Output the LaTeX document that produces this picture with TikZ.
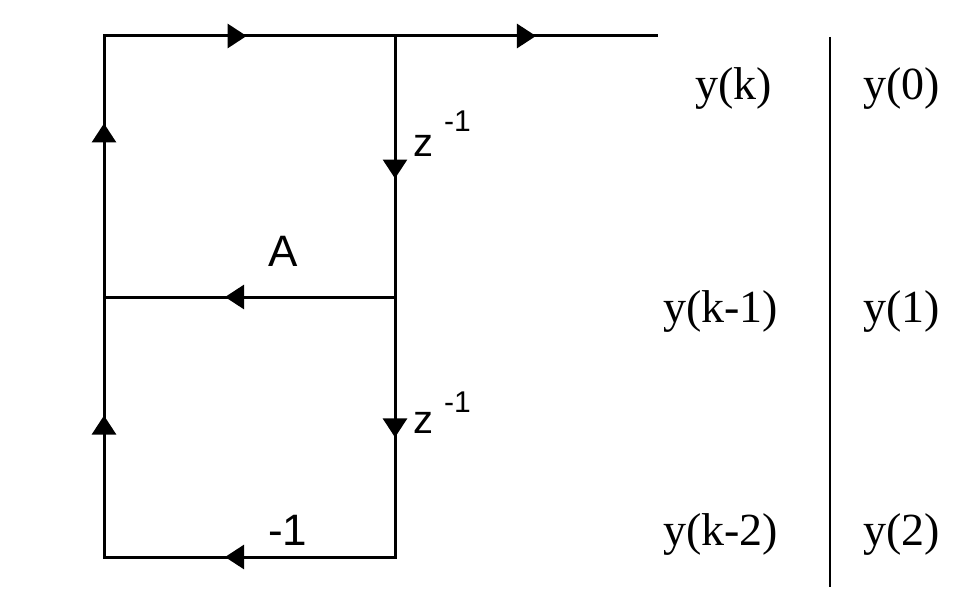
\documentclass[tikz,border=0pt]{standalone}
\usepackage{fontspec}
\setmainfont{Liberation Serif}
\newfontfamily\arialf{Liberation Sans}
\usetikzlibrary{arrows.meta,decorations.markings}
\begin{document}
\begin{tikzpicture}[x=1pt,y=-1pt,
  wire/.style={line width=3pt,line cap=rect},
  flow/.style={wire,postaction={decorate},decoration={markings,mark=at position #1 with {\arrow{Triangle[length=19pt,width=24pt]}}}},
  serifl/.style={inner sep=0pt,anchor=base west,font=\fontsize{46}{46}\selectfont},
  sansl/.style={inner sep=0pt,anchor=base west,font=\arialf\fontsize{40}{40}\selectfont},
  bigsans/.style={inner sep=0pt,anchor=base west,font=\arialf\fontsize{44}{44}\selectfont},
  supl/.style={inner sep=0pt,anchor=base west,font=\arialf\fontsize{30}{30}\selectfont}]
\useasboundingbox[fill=white] (0,0) rectangle (966,612);
\coordinate (TL) at (104,36);
\coordinate (TM) at (395,36);
\coordinate (TR) at (656,36);
\coordinate (ML) at (104,297);
\coordinate (MM) at (395,297);
\coordinate (BL) at (104,557);
\coordinate (BM) at (395,557);
\coordinate (S1) at (830,37);
\coordinate (S2) at (830,587);
% signal flow
\draw[flow=0.49] (TL) -- (TM);
\draw[flow=0.54] (TM) -- (TR);
\draw[flow=0.546] (TM) -- (MM);
\draw[flow=0.54] (MM) -- (BM);
\draw[flow=0.584] (MM) -- (ML);
\draw[flow=0.584] (BM) -- (BL);
\draw[flow=0.544] (BL) -- (ML);
\draw[flow=0.665] (ML) -- (TL);
% separator
\draw[line width=2.5pt] (S1) -- (S2);
% gains
\node[sansl] (z1) at (413,157) {z};
\node[supl] (s1) at (444,132) {-1};
\node[sansl] (z2) at (413,433) {z};
\node[supl] (s2) at (444,412) {-1};
\node[bigsans] (gA) at (268,267) {A};
\node[bigsans] (gm) at (268,545) {-1};
% signals
\node[serifl] (yk) at (695,100) {y(k)};
\node[serifl] (yk1) at (663,322) {y(k-1)};
\node[serifl] (yk2) at (663,545) {y(k-2)};
\node[serifl] (y0) at (863,100) {y(0)};
\node[serifl] (y1) at (863,322) {y(1)};
\node[serifl] (y2) at (863,545) {y(2)};
\end{tikzpicture}
\end{document}
